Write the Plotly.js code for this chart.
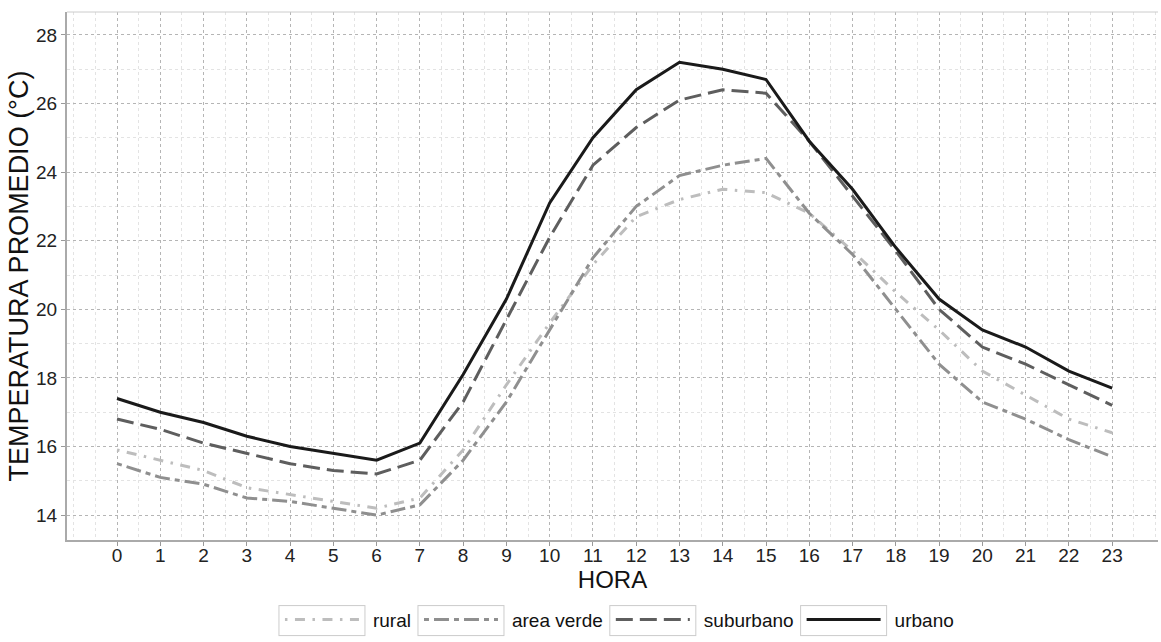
<!DOCTYPE html>
<html>
<head>
<meta charset="utf-8">
<script src="https://cdn.plot.ly/plotly-3.0.1.min.js"></script>
<style>html,body{margin:0;padding:0;background:#fff;}#chart{width:1161px;height:642px;}</style>
</head>
<body>
<div id="chart"></div>
<script>
const horas = [0,1,2,3,4,5,6,7,8,9,10,11,12,13,14,15,16,17,18,19,20,21,22,23];
const hourLabels = horas.map(String);
const rural = [15.9,15.6,15.3,14.8,14.6,14.4,14.2,14.5,15.9,17.8,19.6,21.3,22.7,23.2,23.5,23.4,22.8,21.7,20.5,19.4,18.2,17.5,16.8,16.4];
const areaVerde = [15.5,15.1,14.9,14.5,14.4,14.2,14.0,14.3,15.6,17.3,19.4,21.5,23.0,23.9,24.2,24.4,22.8,21.6,20.0,18.4,17.3,16.8,16.2,15.7];
const suburbano = [16.8,16.5,16.1,15.8,15.5,15.3,15.2,15.6,17.3,19.7,22.1,24.2,25.3,26.1,26.4,26.3,24.9,23.3,21.7,20.0,18.9,18.4,17.8,17.2];
const urbano = [17.4,17.0,16.7,16.3,16.0,15.8,15.6,16.1,18.1,20.3,23.1,25.0,26.4,27.2,27.0,26.7,24.9,23.5,21.8,20.3,19.4,18.9,18.2,17.7];
const seriesNames = ['rural','area verde','suburbano','urbano'];
const yTicks = [14,16,18,20,22,24,26,28];

const styles = [
  {color:'#bdbdbd', dash:'2.5px,7.5px,10px,7.5px'},
  {color:'#8f8f8f', dash:'5px,5px,15px,5px'},
  {color:'#5e5e5e', dash:'17px,7px'},
  {color:'#1a1a1a', dash:'solid'}
];
const seriesData = [rural, areaVerde, suburbano, urbano];

const traces = seriesData.map((ys,i)=>({
  type:'scatter', mode:'lines', x:horas, y:ys, name:seriesNames[i],
  line:{color:styles[i].color, width:3, dash:styles[i].dash},
  hoverinfo:'skip'
}));

const font = 'Liberation Sans, Arial, sans-serif';
const KEY_W = 86;
const layout = {
  width:1161, height:642,
  margin:{l:67, r:3, t:12, b:99},
  paper_bgcolor:'#ffffff', plot_bgcolor:'#ffffff',
  font:{family:font, color:'#222'},
  showlegend:true,
  legend:{orientation:'h', x:0.505, xanchor:'center', y:-0.151, yanchor:'middle',
          font:{size:19, color:'#111'}, bgcolor:'rgba(0,0,0,0)', itemwidth:KEY_W, traceorder:'normal'},
  xaxis:{
    range:[-1.156, 24.06], tickmode:'array', tickvals:horas, ticktext:hourLabels,
    tickfont:{size:19, color:'#222'}, ticks:'outside', ticklen:4, tickcolor:'#999', tickwidth:1,
    ticklabelstandoff:-7,
    showline:true, linecolor:'#aaa', linewidth:2, zeroline:false,
    showgrid:true, gridcolor:'#b5b5b5', griddash:'dot', gridwidth:1,
    minor:{dtick:0.5, tick0:0, showgrid:true, gridcolor:'#e3e3e3', gridwidth:1, ticks:''},
    title:{text:'HORA', font:{size:24, color:'#111'}, standoff:2}
  },
  yaxis:{
    range:[13.275, 28.667], tickmode:'array', tickvals:yTicks, ticktext:yTicks.map(String),
    tickfont:{size:19, color:'#222'}, ticks:'outside', ticklen:4, tickcolor:'#999', tickwidth:1,
    showline:true, linecolor:'#aaa', linewidth:2, zeroline:false,
    showgrid:true, gridcolor:'#b5b5b5', griddash:'dot', gridwidth:1,
    minor:{dtick:1, tick0:0, showgrid:true, gridcolor:'#e3e3e3', gridwidth:1, ticks:''},
    title:{text:'TEMPERATURA PROMEDIO (°C)', font:{size:27, color:'#111'}, standoff:0}
  },
  shapes:[{type:'line', xref:'paper', yref:'paper', x0:0, x1:1, y0:1, y1:1, line:{color:'#cccccc', width:1}}]
};

Plotly.newPlot('chart', traces, layout, {displayModeBar:false, staticPlot:true}).then(function(){
  // legend keys: longer key line inside a light bordered box (as in the reference)
  const ns = 'http://www.w3.org/2000/svg';
  document.querySelectorAll('.legend .traces').forEach(function(g){
    const path = g.querySelector('.legendlines path');
    if (path) path.setAttribute('d', 'M8,0h' + (KEY_W - 12));
    const r = document.createElementNS(ns, 'rect');
    r.setAttribute('x', 2); r.setAttribute('y', -14);
    r.setAttribute('width', KEY_W); r.setAttribute('height', 30);
    r.setAttribute('fill', '#ffffff'); r.setAttribute('stroke', '#cccccc'); r.setAttribute('stroke-width', 1);
    g.insertBefore(r, g.firstChild);
  });
});
</script>
</body>
</html>
